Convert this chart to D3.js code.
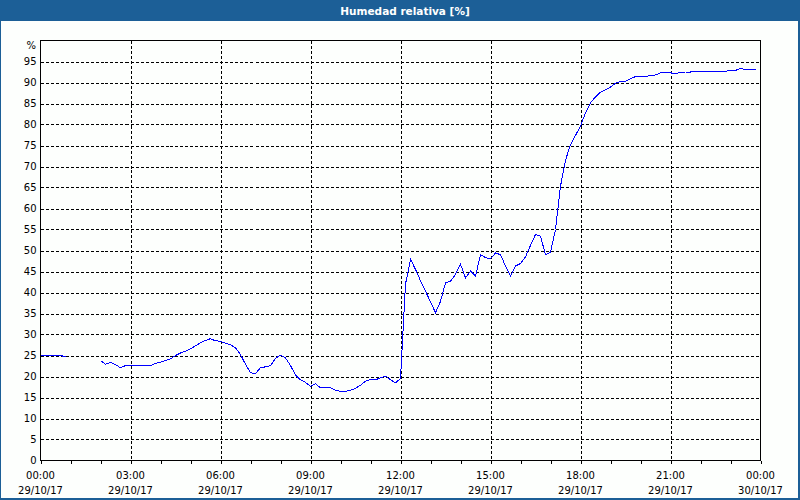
<!DOCTYPE html>
<html><head><meta charset="utf-8">
<script src="https://cdn.jsdelivr.net/npm/d3@7"></script>
<style>
html,body{margin:0;padding:0;background:#fff;}
svg{display:block;}
text{font-family:"DejaVu Sans",sans-serif;}
</style></head>
<body>
<svg id="c" width="800" height="500"></svg>
<script>
const title = "Humedad relativa [%]";
const yUnit = "%";
const yTicks = [0,5,10,15,20,25,30,35,40,45,50,55,60,65,70,75,80,85,90,95];
const xTickHours = [0,3,6,9,12,15,18,21,24];
const xTimeLabels = ["00:00","03:00","06:00","09:00","12:00","15:00","18:00","21:00","00:00"];
const xDateLabels = ["29/10/17","29/10/17","29/10/17","29/10/17","29/10/17","29/10/17","29/10/17","29/10/17","30/10/17"];
// sample times in minutes from 29/10/17 00:00 (10-minute steps)
const times = d3.range(0, 1440, 10);
// relative humidity values, six per hour; null = no data
const humidity = [
  25.0,25.0,25.0,25.0,25.0,24.7,            // 00:00-00:50
  null,null,null,null,null,null,            // 01:00-01:50
  23.8,22.9,23.4,22.8,22.1,22.6,            // 02:00-02:50
  22.6,22.6,22.6,22.6,22.6,23.1,            // 03:00-03:50
  23.4,23.8,24.2,25.0,25.6,26.0,            // 04:00-04:50
  26.6,27.3,28.0,28.6,29.0,28.5,            // 05:00-05:50
  28.4,27.9,27.6,26.8,25.2,22.9,            // 06:00-06:50
  20.9,20.7,22.1,22.3,22.6,24.3,            // 07:00-07:50
  25.1,24.4,22.6,20.4,19.2,18.6,            // 08:00-08:50
  17.7,18.3,17.3,17.3,17.3,16.7,            // 09:00-09:50
  16.5,16.5,16.7,17.2,17.9,18.9,            // 10:00-10:50
  19.3,19.2,19.7,20.1,19.2,18.5,            // 11:00-11:50
  19.5,42.0,47.9,45.5,42.8,40.3,            // 12:00-12:50
  37.8,35.2,37.9,42.3,42.7,44.3,            // 13:00-13:50
  46.7,43.5,45.1,43.9,49.0,48.3,            // 14:00-14:50
  48.0,49.4,49.0,46.3,43.9,46.3,            // 15:00-15:50
  46.9,48.5,51.2,53.8,53.4,49.0,            // 16:00-16:50
  49.6,55.0,65.3,71.5,75.2,77.4,            // 17:00-17:50
  79.6,82.8,85.2,86.6,87.7,88.3,            // 18:00-18:50
  88.9,89.8,90.3,90.3,90.9,91.4,            // 19:00-19:50
  91.5,91.5,91.6,91.8,92.3,92.3,            // 20:00-20:50
  92.3,92.1,92.4,92.5,92.5,92.6,            // 21:00-21:50
  92.6,92.6,92.7,92.7,92.7,92.7,            // 22:00-22:50
  92.8,92.9,93.3,93.1,93.1,93.1             // 23:00-23:50
];
</script>
<script>
const data = times.map((t,i)=>({t, v: humidity[i]}));
const svg = d3.select("#c");
const W=800,H=500;
const frameCol = "#1c5f97";
svg.append("rect").attr("x",0).attr("y",0).attr("width",W).attr("height",H).attr("fill","#fdfffd");
svg.append("rect").attr("x",0).attr("y",0).attr("width",W).attr("height",21).attr("fill",frameCol);
svg.append("rect").attr("x",0.5).attr("y",0.5).attr("width",W-1).attr("height",H-1).attr("fill","none").attr("stroke",frameCol);
svg.append("line").attr("x1",W-1.5).attr("x2",W-1.5).attr("y1",0).attr("y2",H).attr("stroke",frameCol);
svg.append("line").attr("x1",0).attr("x2",W).attr("y1",H-1.5).attr("y2",H-1.5).attr("stroke",frameCol);
svg.append("text").attr("x",405).attr("y",15).attr("text-anchor","middle")
  .attr("fill","#fff").attr("font-weight","bold").attr("font-size","10.5px").text(title);

const L=40.5, R=760.5, T=40.5, B=460.5;
const x = d3.scaleLinear().domain([0,1440]).range([L,R]);
const y = d3.scaleLinear().domain([0,100]).range([B,T]);

const g = svg.append("g");
g.selectAll(".hg").data(yTicks.filter(d=>d>0)).join("line")
  .attr("x1",L).attr("x2",R).attr("y1",d=>Math.round(y(d))+0.5).attr("y2",d=>Math.round(y(d))+0.5)
  .attr("stroke","#000").attr("stroke-dasharray","3,2").attr("shape-rendering","crispEdges");
g.selectAll(".vg").data(xTickHours.slice(1,-1)).join("line")
  .attr("y1",T).attr("y2",B).attr("x1",d=>Math.round(x(d*60))+0.5).attr("x2",d=>Math.round(x(d*60))+0.5)
  .attr("stroke","#000").attr("stroke-dasharray","3,2").attr("shape-rendering","crispEdges");
g.append("rect").attr("x",L).attr("y",T).attr("width",R-L).attr("height",B-T)
  .attr("fill","none").attr("stroke","#000").attr("shape-rendering","crispEdges");

const yAxis = d3.axisLeft(y).tickValues(yTicks).tickSize(0).tickPadding(4);
const ya = svg.append("g").attr("transform",`translate(${L},0)`).call(yAxis);
ya.select(".domain").remove();
ya.selectAll("text").attr("font-size","10px").attr("fill","#000").attr("font-family","DejaVu Sans");
svg.append("text").attr("x",36).attr("y",49).attr("text-anchor","end").attr("font-size","10px").text(yUnit);

const xAxis = d3.axisBottom(x).tickValues(d3.range(0,1441,60)).tickSize(3).tickFormat("");
const xa = svg.append("g").attr("transform",`translate(0,${B})`).call(xAxis);
xa.select(".domain").remove();
xa.selectAll("line").attr("stroke","#000").attr("shape-rendering","crispEdges");
const lab = svg.append("g");
lab.selectAll(".tl").data(xTickHours).join("text")
  .attr("x",(d)=>x(d*60)).attr("y",479).attr("text-anchor","middle").attr("font-size","10px")
  .text((d,i)=>xTimeLabels[i]);
lab.selectAll(".dl").data(xTickHours).join("text")
  .attr("x",(d)=>x(d*60)).attr("y",494).attr("text-anchor","middle").attr("font-size","10px")
  .text((d,i)=>xDateLabels[i]);

const line = d3.line().defined(d=>d.v!=null).x(d=>x(d.t)).y(d=>y(d.v));
svg.append("path").datum(data).attr("d",line).attr("fill","none").attr("stroke","#0000ff")
  .attr("stroke-width",1).attr("shape-rendering","crispEdges");
</script>
</body></html>
